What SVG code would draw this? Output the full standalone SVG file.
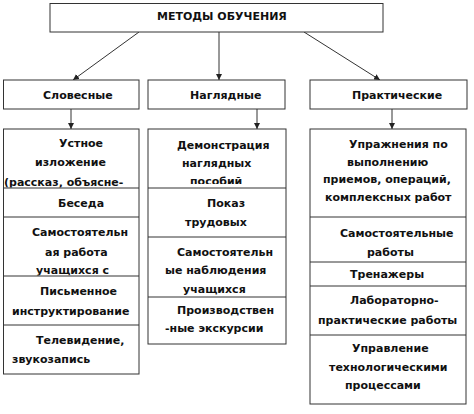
<svg xmlns="http://www.w3.org/2000/svg" width="474" height="414" viewBox="0 0 474 414">
<style>
.box{fill:#fff;stroke:#333;stroke-width:1}
.div{stroke:#333;stroke-width:1}
.t{font-family:"DejaVu Sans","Liberation Sans",sans-serif;font-weight:bold;font-size:11px;fill:#111}
.c{stroke:#333;stroke-width:1;fill:none;marker-end:url(#ah)}
</style>
<defs>
<marker id="ah" viewBox="0 0 10 10" refX="10" refY="5" markerWidth="6" markerHeight="6" markerUnits="userSpaceOnUse" orient="auto">
<path d="M0,0 L10,5 L0,10 z" fill="#222"/>
</marker>
<clipPath id="cl1"><rect x="3" y="129" width="136" height="58.5"/></clipPath>
<clipPath id="cl2"><rect x="3" y="217" width="136" height="58.5"/></clipPath>
<clipPath id="cm1"><rect x="148" y="129" width="138" height="55"/></clipPath>
<clipPath id="cm2"><rect x="148" y="237" width="138" height="58"/></clipPath>
</defs>
<rect width="474" height="414" fill="#fff"/>
<g id="connectors">
<line class="c" x1="139" y1="32" x2="73" y2="80"/>
<line class="c" x1="219" y1="32" x2="219" y2="80"/>
<line class="c" x1="304" y1="32" x2="380" y2="80"/>
<line class="c" x1="71" y1="109" x2="71" y2="129"/>
<line class="c" x1="257" y1="109" x2="257" y2="129"/>
<line class="c" x1="392" y1="109" x2="392" y2="129"/>
</g>
<g id="root">
<rect class="box" x="50" y="3.5" width="333" height="28.5"/>
<text class="t" x="157" y="20">МЕТОДЫ ОБУЧЕНИЯ</text>
</g>
<g id="cat-verbal">
<rect class="box" x="3.5" y="80" width="135.5" height="29"/>
<text class="t" x="43" y="99">Словесные</text>
</g>
<g id="cat-visual">
<rect class="box" x="148" y="80" width="137" height="29"/>
<text class="t" x="190" y="99">Наглядные</text>
</g>
<g id="cat-practical">
<rect class="box" x="310" y="80" width="157" height="29"/>
<text class="t" x="352" y="99">Практические</text>
</g>
<g id="col-verbal">
<rect class="box" x="3.5" y="129" width="135.5" height="245"/>
<line class="div" x1="3.5" y1="188" x2="139" y2="188"/>
<line class="div" x1="3.5" y1="217" x2="139" y2="217"/>
<line class="div" x1="3.5" y1="276" x2="139" y2="276"/>
<line class="div" x1="3.5" y1="325" x2="139" y2="325"/>
<text class="t" x="59" y="147">Устное</text>
<text class="t" x="35" y="166">изложение</text>
<text class="t" x="4" y="186" clip-path="url(#cl1)">(рассказ, объясне-</text>
<text class="t" x="58" y="207">Беседа</text>
<text class="t" x="32" y="236">Самостоятельн</text>
<text class="t" x="45" y="256">ая работа</text>
<text class="t" x="36" y="274" clip-path="url(#cl2)">учащихся с</text>
<text class="t" x="40" y="295">Письменное</text>
<text class="t" x="12" y="315">инструктирование</text>
<text class="t" x="36" y="344">Телевидение,</text>
<text class="t" x="12" y="363">звукозапись</text>
</g>
<g id="col-visual">
<rect class="box" x="148" y="129" width="138" height="215"/>
<line class="div" x1="148" y1="188" x2="286" y2="188"/>
<line class="div" x1="148" y1="237" x2="286" y2="237"/>
<line class="div" x1="148" y1="297" x2="286" y2="297"/>
<text class="t" x="177" y="149">Демонстрация</text>
<text class="t" x="182" y="167">наглядных</text>
<text class="t" x="190" y="185" clip-path="url(#cm1)">пособий</text>
<text class="t" x="207" y="207">Показ</text>
<text class="t" x="185" y="226">трудовых</text>
<text class="t" x="177" y="256">Самостоятельн</text>
<text class="t" x="165" y="274">ые наблюдения</text>
<text class="t" x="183" y="293" clip-path="url(#cm2)">учащихся</text>
<text class="t" x="177" y="314">Производствен</text>
<text class="t" x="165" y="332">-ные экскурсии</text>
</g>
<g id="col-practical">
<rect class="box" x="310" y="129" width="156" height="275"/>
<line class="div" x1="310" y1="217" x2="466" y2="217"/>
<line class="div" x1="310" y1="262" x2="466" y2="262"/>
<line class="div" x1="310" y1="286" x2="466" y2="286"/>
<line class="div" x1="310" y1="335" x2="466" y2="335"/>
<text class="t" x="349" y="148">Упражнения по</text>
<text class="t" x="347" y="166">выполнению</text>
<text class="t" x="323" y="183">приемов, операций,</text>
<text class="t" x="325" y="201">комплексных работ</text>
<text class="t" x="340" y="237">Самостоятельные</text>
<text class="t" x="367" y="256">работы</text>
<text class="t" x="350" y="278">Тренажеры</text>
<text class="t" x="350" y="304">Лабораторно-</text>
<text class="t" x="318" y="324">практические работы</text>
<text class="t" x="352" y="352">Управление</text>
<text class="t" x="329" y="371">технологическими</text>
<text class="t" x="345" y="389">процессами</text>
</g>
</svg>
